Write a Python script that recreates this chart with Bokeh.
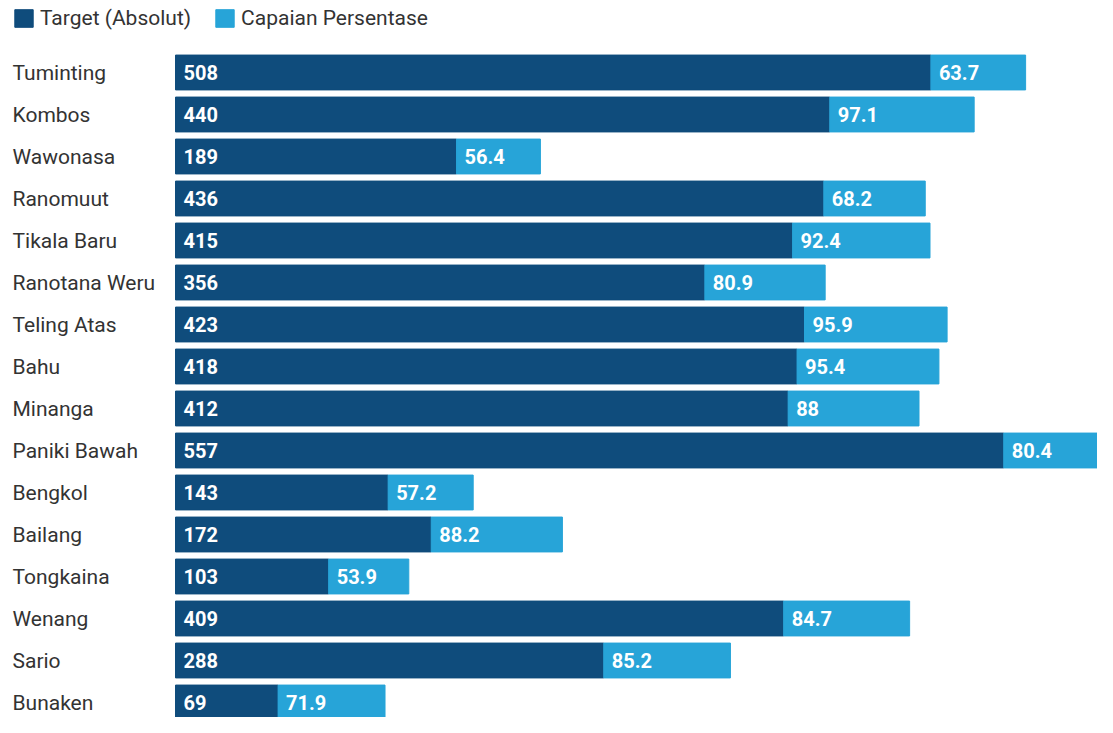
from bokeh.plotting import figure
from bokeh.models import ColumnDataSource, Range1d, Legend, LegendItem
from bokeh.core.properties import value
from bokeh.embed import file_html
from bokeh.resources import INLINE

names = ["Tuminting", "Kombos", "Wawonasa", "Ranomuut", "Tikala Baru", "Ranotana Weru",
         "Teling Atas", "Bahu", "Minanga", "Paniki Bawah", "Bengkol", "Bailang",
         "Tongkaina", "Wenang", "Sario", "Bunaken"]
target = [508, 440, 189, 436, 415, 356, 423, 418, 412, 557, 143, 172, 103, 409, 288, 69]
pct = [63.7, 97.1, 56.4, 68.2, 92.4, 80.9, 95.9, 95.4, 88, 80.4, 57.2, 88.2, 53.9, 84.7, 85.2, 71.9]

DARK = "#0f4c7c"
LIGHT = "#27a4d8"
FONT = "Roboto"

n = len(names)
ys = [n - 1 - i for i in range(n)]
src = ColumnDataSource(dict(
    name=names, y=ys, target=target, pct=pct,
    total=[t + c for t, c in zip(target, pct)],
    zero=[0] * n,
    tlab=[str(t) for t in target],
    plab=["%g" % c for c in pct],
))

W, H = 1097, 717
scale = 1.487          # px per unit
x_start = -175 / scale
x_end = x_start + W / scale
spacing = 42.0
y_end = (n - 1) + 72 / spacing
y_start = y_end - H / spacing

p = figure(width=W, height=H, output_backend="svg", toolbar_location=None,
           x_range=Range1d(x_start, x_end), y_range=Range1d(y_start, y_end),
           x_axis_location=None, y_axis_location=None,
           min_border=0, min_border_left=0, min_border_right=0,
           min_border_top=0, min_border_bottom=0)
p.outline_line_color = None
p.xgrid.visible = False
p.ygrid.visible = False
p.background_fill_color = "white"

r1 = p.hbar(y="y", left="zero", right="target", height=0.83, color=DARK, source=src)
r2 = p.hbar(y="y", left="target", right="total", height=0.83, color=LIGHT, source=src)

p.text(x="zero", y="y", text="tlab", source=src, x_offset=8, text_baseline="middle",
       text_color="white", text_font=value(FONT), text_font_size="20px",
       text_font_style="bold")
p.text(x="target", y="y", text="plab", source=src, x_offset=8, text_baseline="middle",
       text_color="white", text_font=value(FONT), text_font_size="20px",
       text_font_style="bold")

lab_src = ColumnDataSource(dict(y=ys, name=names, x=[x_start] * n))
p.text(x="x", y="y", text="name", source=lab_src, x_offset=12, text_baseline="middle",
       text_color="#333333", text_font=value(FONT), text_font_size="21px")

legend = Legend(items=[LegendItem(label="Target (Absolut)", renderers=[r1]),
                       LegendItem(label="Capaian Persentase", renderers=[r2])],
                location=(12, H - 30), orientation="horizontal",
                margin=0, padding=0, spacing=22,
                glyph_width=23, glyph_height=22, label_standoff=5,
                label_text_font=FONT, label_text_font_size="21px",
                label_text_color="#333333", label_height=22,
                background_fill_alpha=0, border_line_color=None)
p.add_layout(legend)

open("out.html", "w").write(file_html(p, INLINE))
